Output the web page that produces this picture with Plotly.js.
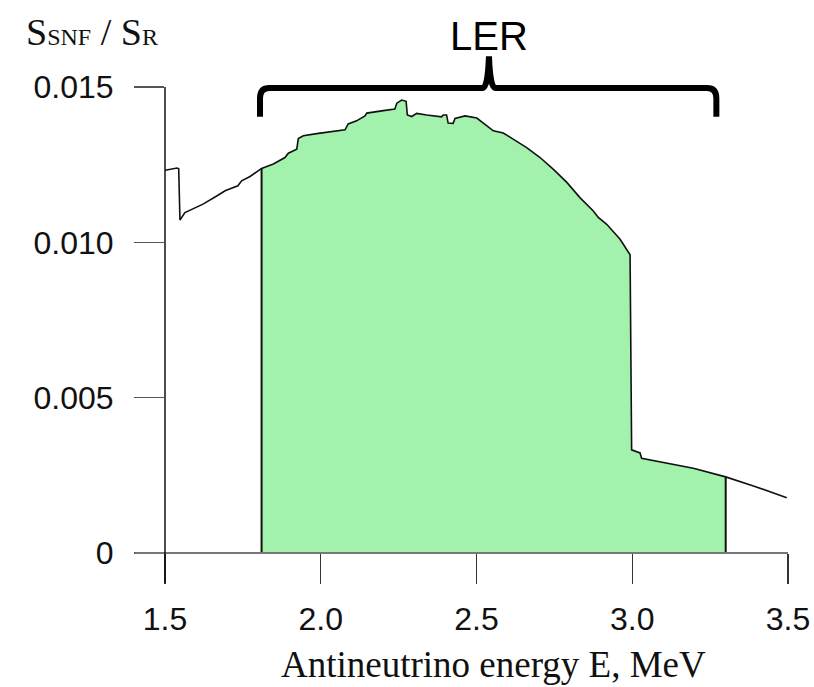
<!DOCTYPE html>
<html>
<head>
<meta charset="utf-8">
<script src="https://cdn.plot.ly/plotly-3.0.1.min.js"></script>
<style>html,body{margin:0;padding:0;background:#fff;}#chart{width:814px;height:687px;}</style>
</head>
<body>
<div id="chart"></div>
<script>
// ---- data ----
const energy = [1.500, 1.539, 1.544, 1.548, 1.564, 1.580, 1.622, 1.666, 1.693, 1.734, 1.746, 1.773,
  1.810, 1.848, 1.885, 1.896, 1.923, 1.928, 1.944, 1.987, 2.030, 2.078, 2.088, 2.115, 2.142, 2.148,
  2.201, 2.238, 2.244, 2.260, 2.274, 2.278, 2.292, 2.308, 2.340, 2.388, 2.393, 2.404, 2.409, 2.425,
  2.431, 2.463, 2.501, 2.554, 2.586, 2.618, 2.661, 2.704, 2.747, 2.790, 2.832, 2.875, 2.891, 2.918,
  2.961, 2.993, 2.998, 3.025, 3.030, 3.196, 3.300, 3.389, 3.496];
const ratio = [0.01232, 0.01239, 0.01237, 0.01072, 0.01096, 0.01104, 0.01123, 0.01149, 0.01166, 0.01182, 0.01198, 0.01212,
  0.01238, 0.01252, 0.01273, 0.01287, 0.01300, 0.01334, 0.01343, 0.01350, 0.01356, 0.01362, 0.01381, 0.01391, 0.01407, 0.01416,
  0.01424, 0.01429, 0.01448, 0.01458, 0.01454, 0.01410, 0.01405, 0.01415, 0.01410, 0.01404, 0.01410, 0.01410, 0.01384, 0.01383,
  0.01399, 0.01407, 0.01400, 0.01359, 0.01352, 0.01332, 0.01305, 0.01273, 0.01235, 0.01193, 0.01144, 0.01101, 0.01080, 0.01058,
  0.01010, 0.00960, 0.00332, 0.00322, 0.00305, 0.00273, 0.00245, 0.00216, 0.00178];
const lerStart = 1.81;
const lerEnd = 3.30;
const xTickVals = [1.5, 2.0, 2.5, 3.0, 3.5];
const xTickText = ['1.5', '2.0', '2.5', '3.0', '3.5'];
const yTickVals = [0, 0.005, 0.010, 0.015];
const yTickText = ['0', '0.005', '0.010', '0.015'];
const xTitle = 'Antineutrino energy E, MeV';
const bandLabel = 'LER';

// ---- LER region polygon ----
const lerX = [], lerY = [];
energy.forEach((e, i) => { if (e >= lerStart - 1e-9 && e <= lerEnd + 1e-9) { lerX.push(e); lerY.push(ratio[i]); } });
const polyX = [lerX[0]].concat(lerX, [lerX[lerX.length - 1]]);
const polyY = [0].concat(lerY, [0]);
const edgeX = [lerX[0], lerX[0], null, lerX[lerX.length - 1], lerX[lerX.length - 1]];
const edgeY = [0, lerY[0], null, 0, lerY[lerY.length - 1]];

const traces = [
  {x: polyX, y: polyY, type: 'scatter', mode: 'lines', fill: 'toself',
   fillcolor: 'rgb(162,241,173)', line: {width: 0}, hoverinfo: 'skip'},
  {x: edgeX, y: edgeY, type: 'scatter', mode: 'lines', line: {color: '#111', width: 2}, hoverinfo: 'skip'},
  {x: energy, y: ratio, type: 'scatter', mode: 'lines', line: {color: '#111', width: 1.6}}
];

// brace geometry (decoration), x in data units, y in paper units
const bL = 1.805, bR = 3.27, bM = 2.54;
const yBar = 0.998, yEnd = 0.936, yTip = 1.066, rx = 0.03, ry = 0.022;
const bracePath =
  `M ${bL},${yEnd} L ${bL},${yBar - ry} Q ${bL},${yBar} ${bL + rx},${yBar} ` +
  `L ${bM - 0.02},${yBar} Q ${bM - 0.004},${yBar} ${bM},${yTip} ` +
  `Q ${bM + 0.004},${yBar} ${bM + 0.02},${yBar} ` +
  `L ${bR - rx},${yBar} Q ${bR},${yBar} ${bR},${yBar - ry} L ${bR},${yEnd}`;

const layout = {
  width: 814, height: 687,
  margin: {l: 165, r: 26, t: 87, b: 134},
  paper_bgcolor: '#fff', plot_bgcolor: '#fff',
  showlegend: false,
  font: {family: 'Liberation Sans, Arial, sans-serif', color: '#111'},
  xaxis: {
    range: [1.5, 3.5], showline: false, showgrid: false, zeroline: false,
    ticks: 'outside', ticklen: 30, tickwidth: 1.2, tickcolor: '#333',
    tickvals: xTickVals, ticktext: xTickText, ticklabelstandoff: 8,
    tickfont: {family: 'Liberation Sans, Arial, sans-serif', size: 32, color: '#111'}
  },
  yaxis: {
    range: [0, 0.015], showline: false, showgrid: false, zeroline: false,
    ticks: 'outside', ticklen: 30, tickwidth: 1.2, tickcolor: '#555',
    tickvals: yTickVals, ticktext: yTickText, ticklabelstandoff: 14,
    tickfont: {family: 'Liberation Sans, Arial, sans-serif', size: 32, color: '#111'}
  },
  shapes: [
    {type: 'line', xref: 'paper', yref: 'paper', x0: -30 / 623, x1: 1, y0: 0, y1: 0,
     line: {color: '#777', width: 2}, layer: 'above'},
    {type: 'line', xref: 'paper', yref: 'paper', x0: 0, x1: 0, y0: -30 / 466, y1: 1,
     line: {color: '#111', width: 1.5}, layer: 'above'},
    {type: 'path', xref: 'x', yref: 'paper', path: bracePath,
     line: {color: '#000', width: 6}, layer: 'above'}
  ],
  annotations: [
    {text: bandLabel, xref: 'x', yref: 'paper', x: bM, y: 1.11, xanchor: 'center', yanchor: 'middle',
     showarrow: false, font: {family: 'Liberation Sans, Arial, sans-serif', size: 40, color: '#000'}},
    {text: xTitle, xref: 'paper', yref: 'paper', x: 0.527, y: -0.24, xanchor: 'center', yanchor: 'middle',
     showarrow: false, font: {family: 'Liberation Serif, Times New Roman, serif', size: 37, color: '#111'}},
    {text: 'S<span style="font-size:24px">SNF</span> / S<span style="font-size:24px">R</span>',
     xref: 'paper', yref: 'paper', x: -0.226, y: 1.118, xanchor: 'left', yanchor: 'middle',
     showarrow: false, font: {family: 'Liberation Serif, Times New Roman, serif', size: 38, color: '#111'}}
  ]
};

Plotly.newPlot('chart', traces, layout, {displayModeBar: false, staticPlot: true});
</script>
</body>
</html>
